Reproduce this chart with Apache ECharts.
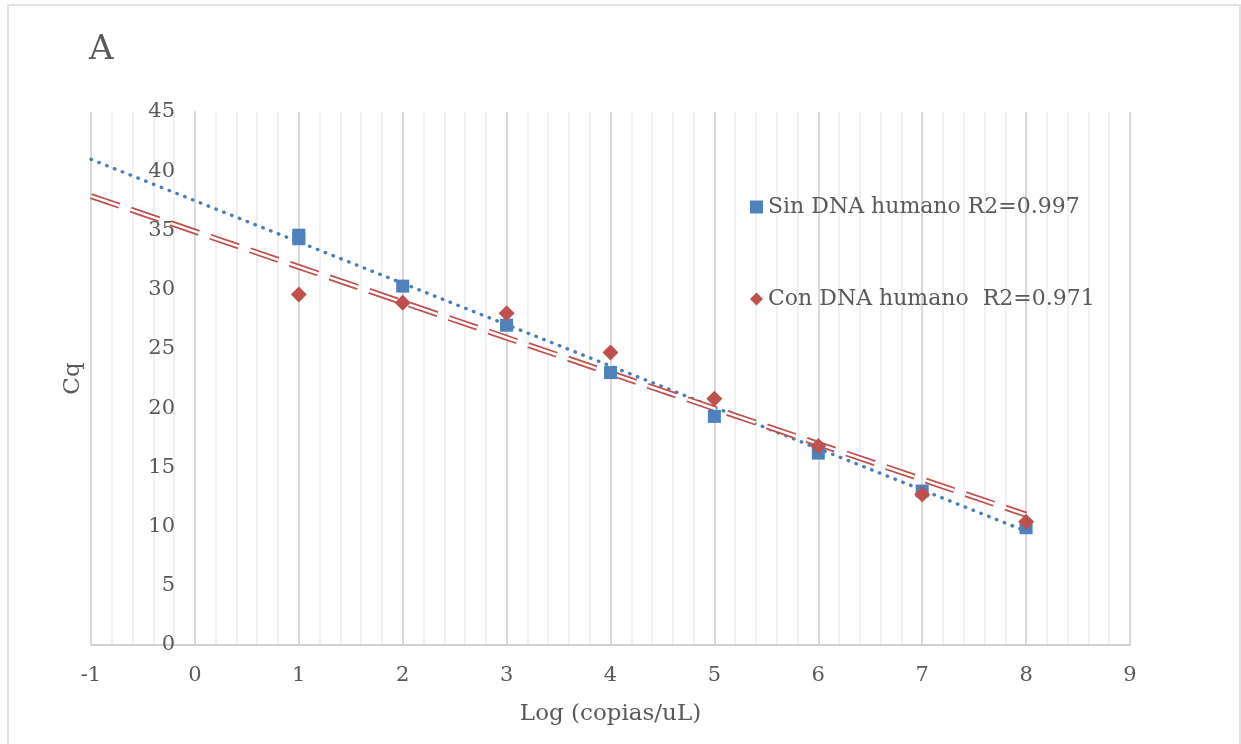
<!DOCTYPE html>
<html>
<head>
<meta charset="utf-8">
<script src="https://cdn.jsdelivr.net/npm/echarts@6/dist/echarts.min.js"></script>
<style>
html, body { margin: 0; padding: 0; background: #fff; }
#chart { width: 1241px; height: 744px; }
</style>
</head>
<body>
<div id="chart"></div>
<script>
// valores
var logCopias = [1, 1, 2, 3, 4, 5, 6, 7, 8];
var cqSin = [34.6, 34.3, 30.3, 27.0, 23.0, 19.3, 16.2, 13.0, 9.9];
var logCopiasCon = [1, 2, 3, 4, 5, 6, 7, 8];
var cqCon = [29.6, 28.9, 28.0, 24.7, 20.8, 16.8, 12.7, 10.4];
// lineas de tendencia (extremos)
var trendX = [-1, 8];
var trendSin = [41.0, 9.6];
var trendCon = [37.9, 11.0];
var nombreSin = 'Sin DNA humano R2=0.997';
var nombreCon = 'Con DNA humano  R2=0.971';

var font = 'DejaVu Serif';
var gris = '#595959';

function pares(xs, ys) {
    var out = [];
    for (var i = 0; i < xs.length; i++) out.push([xs[i], ys[i]]);
    return out;
}

var myChart = echarts.init(document.getElementById('chart'));
var option = {
    backgroundColor: '#fff',
    animation: false,
    title: {
        text: 'A', left: 84, top: 28,
        textStyle: { fontFamily: font, fontSize: 34, fontWeight: 'normal', color: gris }
    },
    graphic: [{
        type: 'rect', shape: { x: 8, y: 5, width: 1232, height: 760 },
        style: { fill: 'none', stroke: '#d9d9d9', lineWidth: 1.5 }, silent: true
    }],
    legend: {
        data: [nombreSin, nombreCon],
        orient: 'vertical', left: 745, top: 191,
        itemGap: 70, itemWidth: 13, itemHeight: 13,
        textStyle: { fontFamily: font, fontSize: 22, color: gris }
    },
    grid: { left: 91, right: 111, top: 112, bottom: 99, containLabel: false, outerBoundsMode: 'none' },
    xAxis: {
        type: 'value', min: -1, max: 9, interval: 1,
        name: 'Log (copias/uL)', nameLocation: 'middle', nameGap: 58,
        nameTextStyle: { fontFamily: font, fontSize: 23, color: gris },
        axisLine: { onZero: false, lineStyle: { color: '#d0d0d0', width: 2 } },
        axisTick: { show: false },
        axisLabel: { margin: 20, fontFamily: font, fontSize: 21, color: gris },
        splitLine: { show: true, lineStyle: { color: '#d9d9d9', width: 2 } },
        minorTick: { show: false, splitNumber: 5 },
        minorSplitLine: { show: true, lineStyle: { color: '#f0f0f0', width: 2 } }
    },
    yAxis: {
        type: 'value', min: 0, max: 45, interval: 5,
        // el eje vertical cruza en x = 0
        offset: -104,
        name: 'Cq', nameLocation: 'middle', nameGap: 110, nameRotate: 90,
        nameTextStyle: { fontFamily: font, fontSize: 23, color: gris },
        axisLine: { show: true, onZero: false, lineStyle: { color: '#d9d9d9', width: 2 } },
        axisTick: { show: false },
        axisLabel: { margin: 20, fontFamily: font, fontSize: 21, color: gris },
        splitLine: { show: false }
    },
    series: [
        {
            name: 'tendSin', type: 'line', data: pares(trendX, trendSin),
            showSymbol: false, z: 2,
            lineStyle: { color: '#4a7ebb', width: 3.4, type: [0.5, 7.9], cap: 'round' }
        },
        {
            name: 'tendCon', type: 'line', data: pares(trendX, trendCon),
            showSymbol: false, z: 2,
            lineStyle: { color: '#c0504d', width: 6, type: [30, 12], cap: 'butt' }
        },
        {
            name: 'tendCon2', type: 'line', data: pares(trendX, trendCon),
            showSymbol: false, z: 3,
            lineStyle: { color: '#ffffff', width: 2.5, type: [30, 12], cap: 'butt' }
        },
        {
            name: nombreSin, type: 'scatter', data: pares(logCopias, cqSin),
            symbol: 'rect', symbolSize: 13, z: 4,
            itemStyle: { color: '#4f81bd', opacity: 1 }
        },
        {
            name: nombreCon, type: 'scatter', data: pares(logCopiasCon, cqCon),
            symbol: 'diamond', symbolSize: 16, z: 5,
            itemStyle: { color: '#c0504d', opacity: 1 }
        }
    ]
};
myChart.setOption(option);
</script>
</body>
</html>
